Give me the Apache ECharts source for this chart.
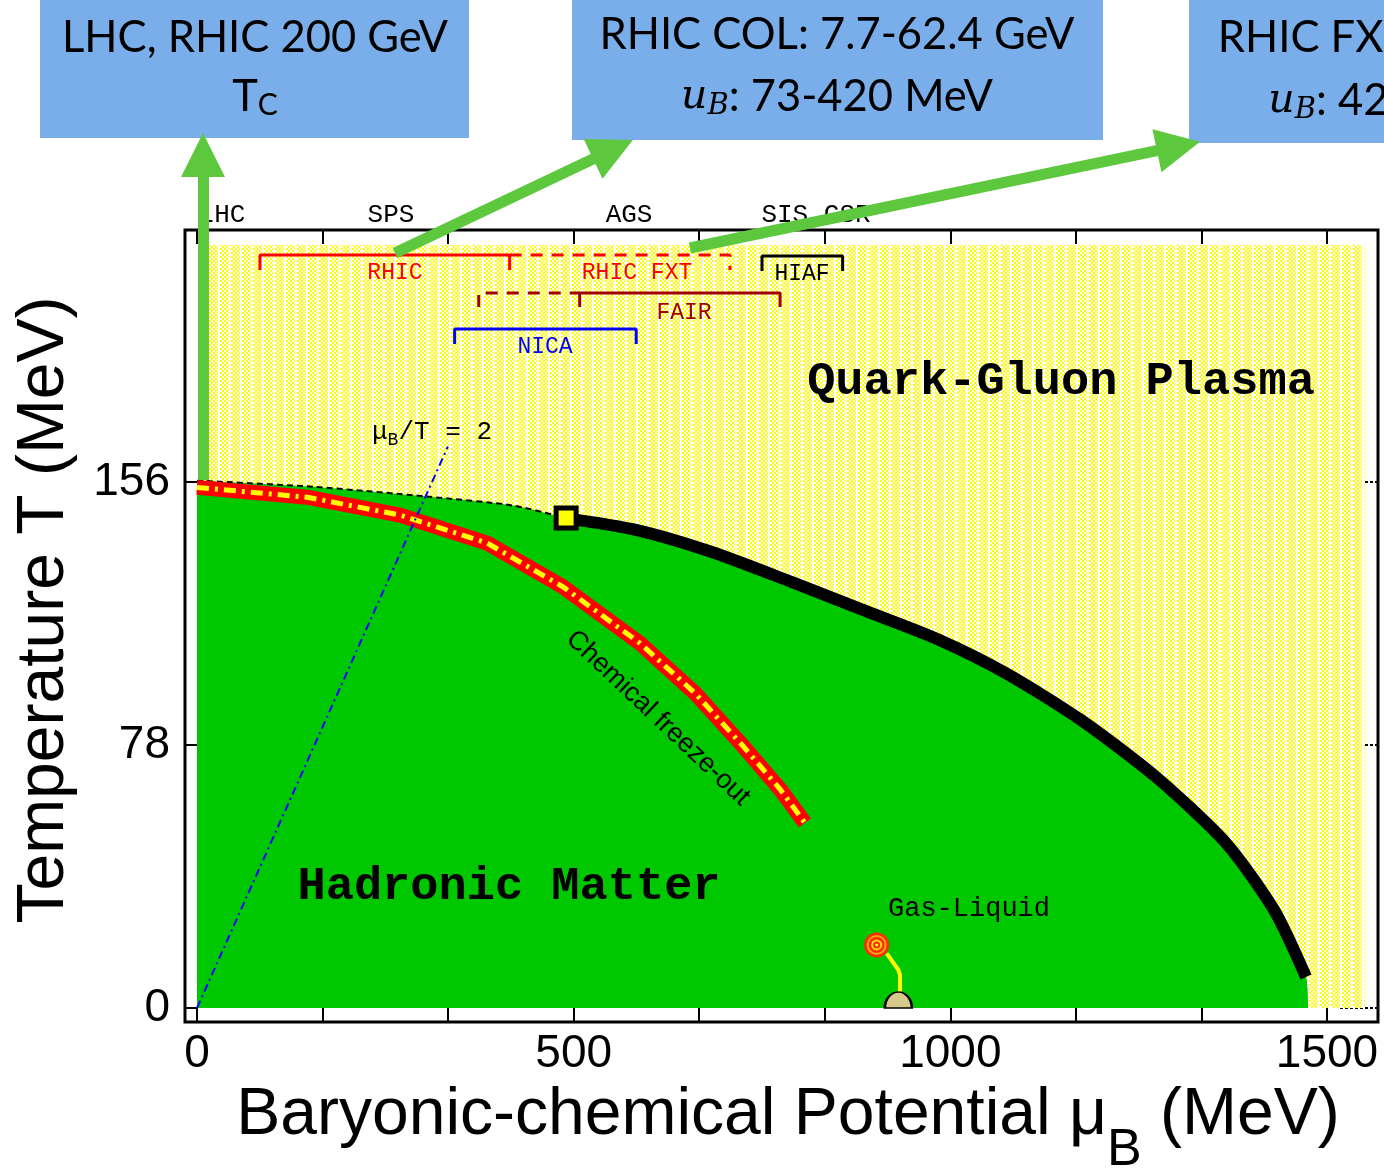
<!DOCTYPE html>
<html><head><meta charset="utf-8">
<script src="https://cdn.jsdelivr.net/npm/echarts@6/dist/echarts.min.js"></script>
<style>html,body{margin:0;padding:0;background:#fff}#c{width:1384px;height:1176px}</style>
</head><body><div id="c"></div>
<script>
// ---------------- data ----------------
const xTickValues = [0, 166.67, 333.33, 500, 666.67, 833.33, 1000, 1166.67, 1333.33, 1500];
const xLabelValues = [0, 500, 1000, 1500];
const yLabelValues = [0, 78, 156];

const qgpRegion = [[0, 226.3], [1550, 226.3]];
const crossoverBoundary = [[0, 156.4], [154, 154.6], [309, 151.6], [420, 149.0], [490, 145.3]];
const firstOrderLine = [[490, 145.3], [582.8, 141.8], [682.4, 135.3], [789.9, 126.3], [881.4, 118.3],
  [981.0, 109.6], [1073.9, 99.3], [1173.5, 85.4], [1273.1, 68.5], [1366.0, 48.9], [1429.7, 29.1], [1472.2, 9.2]];
const hadronEdge = [[1475, 0]];
const freezeOut = [[0, 154.4], [146, 151.5], [269.4, 146.2], [385, 137.9], [485.9, 124.9],
  [588, 108.2], [661, 93.4], [726, 77.4], [775, 64.6], [807, 54.9]];
const muOverT2 = [[0, 0], [333, 166.5]];
const criticalPoint = [[490, 145.3]];
const gasLiquidPoint = [[902.2, 18.7]];
const gasLiquidStem = [[915.5, 16.2], [931, 11.3], [933.2, 9.8], [933.2, 4.5]];
const nucleusPoint = [[931, 0]];

const rhicSolid = [[83.6, 218.9], [83.6, 223.3], [415, 223.3], [415, 218.9]];
const rhicFxtDashed = [[415, 223.3], [707.5, 223.3], [707.5, 218.9]];
const fairDashed = [[374, 207.9], [374, 212.05], [508, 212.05]];
const fairSolid = [[508, 207.9], [508, 212.05], [774, 212.05], [774, 207.9]];
const nicaRange = [[342, 196.9], [342, 201.4], [583, 201.4], [583, 196.9]];
const hiafRange = [[750, 218.6], [750, 223.0], [857, 223.0], [857, 218.6]];

const arrowLinks = [
  [[8, 156.6], [8, 253]],
  [[262.8, 223.9], [552.2, 254.6]],
  [[654.4, 225.4], [1302.9, 255.6]]
];

const facilityLabels = ['RHIC', 'RHIC FXT', 'FAIR', 'NICA', 'HIAF'];
const topAxisLabels = ['LHC', 'SPS', 'AGS', 'SIS CSR'];

// ---------------- layout / style (not data) ----------------
const X_MIN = -15.93, X_MAX = 1567.7, Y_MIN = -4.15, Y_MAX = 230.74;
const facilityAnchors = [[262.8, 218.0], [584.1, 218.0], [646.5, 206.1], [462, 196.0], [803.1, 217.7]];
const facilityColors = ['#ff0000', '#ff0000', '#a00000', '#0000ff', '#000000'];
const topAxisAnchors = [[33.2, 235.2], [257.5, 235.2], [573.5, 235.2], [821.7, 235.2]];

function makePattern() {
  const c = document.createElement('canvas');
  c.width = 11; c.height = 4;
  const g = c.getContext('2d');
  g.fillStyle = '#ffffff'; g.fillRect(0, 0, 11, 4);
  g.fillStyle = '#ffff00';
  for (let x = 0; x < 9; x++) for (let y = 0; y < 4; y++) {
    if (((x >> 1) + (y >> 1)) % 2 === 0) g.fillRect(x, y, 1, 1);
  }
  return c;
}

function ln(data, lineStyle, z, extra) {
  return Object.assign({
    type: 'line', data, showSymbol: false, symbol: 'none', silent: true,
    animation: false, z, lineStyle
  }, extra || {});
}
function sc(data, symbol, size, itemStyle, z, extra) {
  return Object.assign({ type: 'scatter', data, symbol, symbolSize: size,
    itemStyle: Object.assign({ opacity: 1 }, itemStyle), z, silent: true, animation: false }, extra || {});
}

const chart = echarts.init(document.getElementById('c'), null, { renderer: 'canvas', width: 1384, height: 1176 });

const mono = "'Liberation Mono', 'DejaVu Sans Mono', monospace";
const sans = "'Liberation Sans', Arial, sans-serif";

const series = [
  ln(qgpRegion, { width: 0 }, 1, { areaStyle: { color: { image: makePattern(), repeat: 'repeat' }, opacity: 1 } }),
  ln(crossoverBoundary.concat(firstOrderLine.slice(1), hadronEdge), { width: 0 }, 2,
     { smooth: 0.25, areaStyle: { color: '#00c800', opacity: 1 } }),
  ln(crossoverBoundary, { color: '#000', width: 2, type: [6, 4] }, 3, { smooth: 0.25 }),
  ln(firstOrderLine, { color: '#000', width: 12 }, 4, { smooth: 0.25 }),
  ln(freezeOut, { color: '#ff0000', width: 15 }, 5),
  ln(freezeOut, { color: '#ffff00', width: 5, type: [12, 6, 3, 6] }, 5.5),
  ln(muOverT2, { color: '#0000ff', width: 2, type: [8, 4, 2, 4] }, 6),
  ln(gasLiquidStem, { color: '#ffff00', width: 4 }, 7),
  sc(nucleusPoint, 'path://M0,10A10,10 0 0 1 20,10Z', [27, 16],
     { color: '#d4c88a', borderColor: '#000', borderWidth: 2 }, 8, { symbolOffset: [0, -8], clip: false }),
  sc(criticalPoint, 'rect', 20, { color: '#ffff00', borderColor: '#000', borderWidth: 5 }, 9)
];
const ringSizes = [25, 20, 16, 11, 7, 3];
const ringColors = ['#ff2a00', '#ffa500', '#ff2a00', '#ffe000', '#ff2a00', '#ffff00'];
ringSizes.forEach((s, i) => series.push(sc(gasLiquidPoint, 'circle', s, { color: ringColors[i] }, 9 + i * 0.1)));

series.push(ln(rhicSolid, { color: '#ff0000', width: 3 }, 10));
series.push(ln(rhicFxtDashed, { color: '#ff0000', width: 3, type: [12, 9] }, 10));
series.push(ln(fairDashed, { color: '#a00000', width: 3, type: [12, 9] }, 10));
series.push(ln(fairSolid, { color: '#a00000', width: 3 }, 10));
series.push(ln(nicaRange, { color: '#0000ff', width: 3 }, 10));
series.push(ln(hiafRange, { color: '#000000', width: 3 }, 10));

series.push({
  type: 'lines', coordinateSystem: 'cartesian2d', clip: false, silent: true, animation: false, z: 50,
  symbol: ['none', 'triangle'], symbolSize: [44, 44],
  itemStyle: { color: '#5dc83d' },
  lineStyle: { color: '#5dc83d', width: 11, opacity: 1 },
  data: arrowLinks.map(l => ({ coords: l }))
});

const xCommon = { type: 'value', min: X_MIN, max: X_MAX, splitLine: { show: false }, axisLine: { show: false, onZero: false } };
const yCommon = { type: 'value', min: Y_MIN, max: Y_MAX, splitLine: { show: false }, axisLine: { show: false, onZero: false } };

chart.setOption({
  animation: false,
  grid: { left: 185, top: 230, width: 1193, height: 792, show: true, borderColor: '#000', borderWidth: 3, backgroundColor: 'transparent' },
  xAxis: [
    Object.assign({}, xCommon, { position: 'bottom',
      axisTick: { inside: true, length: 14, customValues: xTickValues, lineStyle: { color: '#000', width: 2 } },
      axisLabel: { customValues: xLabelValues, fontSize: 46, fontFamily: sans, color: '#000', margin: 9,
        formatter: v => String(Math.round(v)) } }),
    Object.assign({}, xCommon, { position: 'top',
      axisTick: { inside: true, length: 14, customValues: xTickValues, lineStyle: { color: '#000', width: 2 } },
      axisLabel: { show: false } })
  ],
  yAxis: [
    Object.assign({}, yCommon, { position: 'left',
      axisTick: { inside: true, length: 12, customValues: yLabelValues, lineStyle: { color: '#000', width: 2 } },
      axisLabel: { customValues: yLabelValues, fontSize: 46, fontFamily: sans, color: '#000', margin: 15,
        formatter: v => String(Math.round(v)) } }),
    Object.assign({}, yCommon, { position: 'right',
      axisTick: { inside: true, length: 40, customValues: yLabelValues, lineStyle: { color: '#000', width: 2, type: [3, 2] } },
      axisLabel: { show: false } })
  ],
  series
});

function px(p) { return chart.convertToPixel({ gridIndex: 0 }, p); }

const graphics = [];
// boxes
const boxFill = '#7aaeea';
graphics.push({ type: 'rect', shape: { x: 40, y: 0, width: 429, height: 138 }, style: { fill: boxFill }, z: 1 });
graphics.push({ type: 'rect', shape: { x: 572, y: 0, width: 531, height: 140 }, style: { fill: boxFill }, z: 1 });
graphics.push({ type: 'rect', shape: { x: 1189, y: 0, width: 531, height: 143 }, style: { fill: boxFill }, z: 1 });
const boxFont = "Lato, 'Open Sans', sans-serif";
const serifIt = "'DejaVu Serif', 'Liberation Serif', serif";
function boxText(x, y, text, rich) {
  graphics.push({ type: 'text', x, y, z: 2, style: { text, rich, align: 'center', verticalAlign: 'middle',
    fontFamily: boxFont, fontSize: 43, fill: '#000' } });
}
const boxRich = {
  m: { fontFamily: boxFont, fontSize: 43.5, lineHeight: 60, fill: '#000' },
  sub: { fontFamily: boxFont, fontSize: 30, lineHeight: 44, padding: [16, 0, 0, 0], fill: '#000' },
  u: { fontFamily: serifIt, fontStyle: 'italic', fontSize: 41, lineHeight: 60, fill: '#000' },
  ub: { fontFamily: serifIt, fontStyle: 'italic', fontSize: 29, lineHeight: 44, padding: [18, 0, 0, 0], fill: '#000' }
};
boxText(255, 38, '{m|LHC, RHIC 200 GeV}', boxRich);
boxText(255, 97, '{m|T}{sub|C}', boxRich);
boxText(837, 35, '{m|RHIC COL: 7.7-62.4 GeV}', boxRich);
boxText(837, 97, '{u|u}{ub|B}{m|: 73-420 MeV}', boxRich);
boxText(1438, 38, '{m|RHIC FXT: 3.0-7.7 GeV}', boxRich);
boxText(1437, 101, '{u|u}{ub|B}{m|: 420-720 MeV}', boxRich);

// top axis labels
topAxisLabels.forEach((t, i) => {
  const p = px(topAxisAnchors[i]);
  graphics.push({ type: 'text', x: p[0], y: p[1], z: 3, style: { text: t, align: 'center', verticalAlign: 'middle',
    fontFamily: mono, fontSize: 26, fill: '#000' } });
});
// facility labels
facilityLabels.forEach((t, i) => {
  const p = px(facilityAnchors[i]);
  graphics.push({ type: 'text', x: p[0], y: p[1], z: 60, style: { text: t, align: 'center', verticalAlign: 'middle',
    fontFamily: mono, fontSize: 23, fill: facilityColors[i] } });
});
function plotText(anchor, text, opts) {
  const p = px(anchor);
  graphics.push({ type: 'text', x: p[0], y: p[1], z: 60, rotation: opts.rotation || 0,
    style: Object.assign({ text, align: 'center', verticalAlign: 'middle', fill: '#000' }, opts.style) });
}
plotText([1146.9, 185.7], 'Quark-Gluon Plasma', { style: { fontFamily: mono, fontWeight: 'bold', fontSize: 47 } });
plotText([414.2, 35.9], 'Hadronic Matter', { style: { fontFamily: mono, fontWeight: 'bold', fontSize: 47 } });
plotText([1024.8, 29.4], 'Gas-Liquid', { style: { fontFamily: mono, fontSize: 27 } });
plotText([612, 86.0], 'Chemical freeze-out', { rotation: -0.757, style: { fontFamily: sans, fontSize: 27 } });
plotText([232.3, 170.8], '{m|μ}{s|B}{m|/T = 2}', { style: { align: 'left', rich: {
  m: { fontFamily: mono, fontSize: 26, lineHeight: 30, fill: '#000' },
  s: { fontFamily: mono, fontSize: 18, lineHeight: 22, padding: [16, 0, 0, 0], fill: '#000' } } } });

// axis titles
graphics.push({ type: 'text', x: 788, y: 1116, z: 3, style: { text: '{m|Baryonic-chemical Potential μ}{s|B}{m| (MeV)}',
  align: 'center', verticalAlign: 'middle', rich: {
    m: { fontFamily: sans, fontSize: 66, lineHeight: 72, fill: '#000' },
    s: { fontFamily: sans, fontSize: 52, lineHeight: 72, padding: [70, 0, 0, 0], fill: '#000' } } } });
graphics.push({ type: 'text', x: 45, y: 610, z: 3, rotation: Math.PI / 2, style: { text: 'Temperature T (MeV)',
  align: 'center', verticalAlign: 'middle', fontFamily: sans, fontSize: 66, fill: '#000' } });

chart.setOption({ graphic: graphics });
</script>
</body></html>
